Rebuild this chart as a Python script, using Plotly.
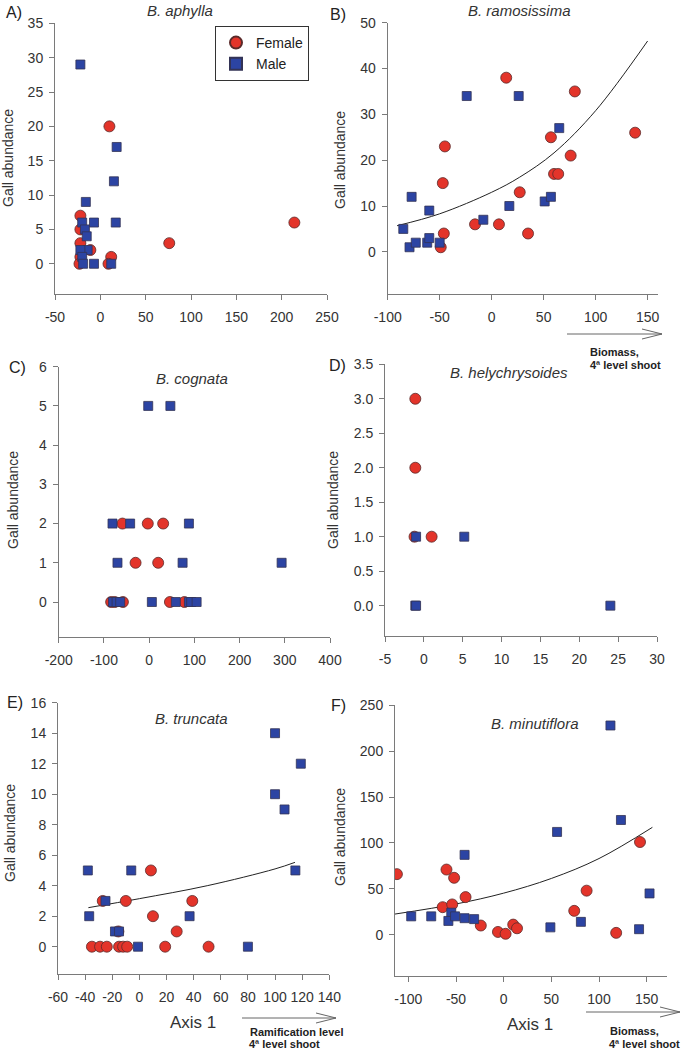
import plotly.graph_objects as go

W, H = 685, 1051
RED = '#E3342A'
BLUE = '#2C44A3'
FONT = 'Liberation Sans, Arial, sans-serif'

# ---- data ----
# A) B. aphylla
a_female_x = [214, 76, 10, 12, 9, -22, -22, -22, -22, -23, -11]
a_female_y = [6, 3, 20, 1, 0, 7, 5, 3, 1, 0, 2]
a_male_x = [-22, 18, 15, 17, -16, -7, -20, -17, -15, -14, -22, -20, -19, -7, 12]
a_male_y = [29, 17, 12, 6, 9, 6, 6, 5, 4, 2, 2, 1, 0, 0, 0]

# B) B. ramosissima
b_female_x = [14, 80, 138, 57, 76, 60, 64, 27, -45, -47, -46, -49, -16, 7, 35]
b_female_y = [38, 35, 26, 25, 21, 17, 17, 13, 23, 15, 4, 1, 6, 6, 4]
b_male_x = [-24, 26, 65, -77, -60, -85, -79, -73, -62, -60, -50, -8, 17, 51, 57]
b_male_y = [34, 34, 27, 12, 9, 5, 1, 2, 2, 3, 2, 7, 10, 11, 12]
b_fit_x = [-91, -50, 0, 27, 60, 100, 150]
b_fit_y = [5.7, 8.3, 13.0, 16.3, 21.6, 30.8, 46.0]

# C) B. cognata
c_female_x = [-59, -3, 31, -30, 20, -84, -76, -58, 46, 78]
c_female_y = [2, 2, 2, 1, 1, 0, 0, 0, 0, 0]
c_male_x = [-2, 47, -81, -42, 88, -70, 74, 293, -80, -72, -64, 6, 59, 88, 93, 105]
c_male_y = [5, 5, 2, 2, 2, 1, 1, 1, 0, 0, 0, 0, 0, 0, 0, 0]

# D) B. helychrysoides
d_female_x = [-1.1, -1.1, -1.2, 1.0]
d_female_y = [3, 2, 1, 1]
d_male_x = [-1.0, 5.2, -1.1, -1.0, 24.0]
d_male_y = [1, 1, 0, 0, 0]

# E) B. truncata
e_female_x = [8.5, -10, -27, 39, 10, 27.5, -15.5, -35, -29, -24, -15, -12, -9, 19, 51]
e_female_y = [5, 3, 3, 3, 2, 1, 1, 0, 0, 0, 0, 0, 0, 0, 0]
e_male_x = [100, 119, 100, 107, 115, -38, -6, -25, -37, 37, -18, -15, -1, 80]
e_male_y = [14, 12, 10, 9, 5, 5, 5, 3, 2, 2, 1, 1, 0, 0]
e_fit_x = [-37.6, 0, 50, 100, 114.7]
e_fit_y = [2.56, 3.15, 4.0, 5.1, 5.53]

# F) B. minutiflora
f_female_x = [-112, -60, -52, -40, -64, -54, -24, -6, 2, 10, 14, 74, 87, 143, 118]
f_female_y = [66, 71, 62, 41, 30, 33, 10, 3, 1, 11, 7, 26, 48, 101, 2]
f_male_x = [112, 123, 56, -41, 153, -97, -76, -55, -58, -51, -41, -31, 49, 81, 142]
f_male_y = [228, 125, 112, 87, 45, 20, 20, 24, 15, 20, 18, 17, 8, 14, 6]
f_fit_x = [-114, -50, 0, 50, 100, 156]
f_fit_y = [22.5, 33.5, 45.3, 61.3, 83.0, 117.0]

# tick labels
a_xticks = [-50, 0, 50, 100, 150, 200, 250]
a_yticks = [0, 5, 10, 15, 20, 25, 30, 35]
b_xticks = [-100, -50, 0, 50, 100, 150]
b_yticks = [0, 10, 20, 30, 40, 50]
c_xticks = [-200, -100, 0, 100, 200, 300, 400]
c_yticks = [0, 1, 2, 3, 4, 5, 6]
d_xticks = [-5, 0, 5, 10, 15, 20, 25, 30]
d_yticks = [0, 0.5, 1, 1.5, 2, 2.5, 3, 3.5]
d_yticklabels = ['0.0', '0.5', '1.0', '1.5', '2.0', '2.5', '3.0', '3.5']
e_xticks = [-60, -40, -20, 0, 20, 40, 60, 80, 100, 120, 140]
e_yticks = [0, 2, 4, 6, 8, 10, 12, 14, 16]
f_xticks = [-100, -50, 0, 50, 100, 150]
f_yticks = [0, 50, 100, 150, 200, 250]

panels = [
    dict(letter='A)', title='B. aphylla', fx=a_female_x, fy=a_female_y, mx=a_male_x, my=a_male_y,
         fit=None, xt=a_xticks, yt=a_yticks, ylab=None,
         box=(55, 327, 23.3, 294), xr=[-50, 250], yr=[-4.4, 35],
         lpos=(14, 13), tpos=(180, 11), ytpos=(8, 158)),
    dict(letter='B)', title='B. ramosissima', fx=b_female_x, fy=b_female_y, mx=b_male_x, my=b_male_y,
         fit=(b_fit_x, b_fit_y), xt=b_xticks, yt=b_yticks, ylab=None,
         box=(387.7, 658, 22.7, 294), xr=[-100, 160], yr=[-9.2, 50],
         lpos=(338, 15), tpos=(519, 11), ytpos=(340, 160)),
    dict(letter='C)', title='B. cognata', fx=c_female_x, fy=c_female_y, mx=c_male_x, my=c_male_y,
         fit=None, xt=c_xticks, yt=c_yticks, ylab=None,
         box=(58.7, 330, 366.7, 637.3), xr=[-200, 400], yr=[-0.9, 6],
         lpos=(17, 367), tpos=(192, 378), ytpos=(13, 500)),
    dict(letter='D)', title='B. helychrysoides', fx=d_female_x, fy=d_female_y, mx=d_male_x, my=d_male_y,
         fit=None, xt=d_xticks, yt=d_yticks, ylab=d_yticklabels,
         box=(385, 657, 364.3, 636), xr=[-5, 30], yr=[-0.44, 3.5],
         lpos=(337, 365), tpos=(509, 373), ytpos=(333, 500)),
    dict(letter='E)', title='B. truncata', fx=e_female_x, fy=e_female_y, mx=e_male_x, my=e_male_y,
         fit=(e_fit_x, e_fit_y), xt=e_xticks, yt=e_yticks, ylab=None,
         box=(58, 329.3, 702.7, 974.3), xr=[-60, 140], yr=[-1.81, 16],
         lpos=(15, 702), tpos=(191, 718), ytpos=(10, 833)),
    dict(letter='F)', title='B. minutiflora', fx=f_female_x, fy=f_female_y, mx=f_male_x, my=f_male_y,
         fit=(f_fit_x, f_fit_y), xt=f_xticks, yt=f_yticks, ylab=None,
         box=(395, 666.7, 705.3, 976), xr=[-114, 171], yr=[-45, 250],
         lpos=(338, 705), tpos=(535, 723), ytpos=(340, 837)),
]

fig = go.Figure()
annotations = []
shapes = []
layout = {}


def px_x(v):
    return v / W


def px_y(v):
    return 1 - v / H


for i, p in enumerate(panels):
    n = '' if i == 0 else str(i + 1)
    xa, ya = 'x' + n, 'y' + n
    l, r, t, b = p['box']
    axis_common = dict(showline=True, linecolor='#7a7a7a', linewidth=1, ticks='outside',
                       ticklen=5, tickcolor='#7a7a7a', showgrid=False, zeroline=False,
                       automargin=False,
                       tickfont=dict(family=FONT, size=14, color='#333333'))
    layout['xaxis' + n] = dict(domain=[px_x(l), px_x(r)], anchor=ya, range=p['xr'],
                               tickmode='array', tickvals=p['xt'], ticklabelstandoff=5,
                               ticktext=[str(v) for v in p['xt']], **axis_common)
    layout['yaxis' + n] = dict(domain=[px_y(b), px_y(t)], anchor=xa, range=p['yr'],
                               tickmode='array', tickvals=p['yt'], ticklabelstandoff=3,
                               ticktext=p['ylab'] if p['ylab'] else [str(v) for v in p['yt']],
                               **axis_common)

    if p['fit'] is not None:
        fig.add_trace(go.Scatter(x=p['fit'][0], y=p['fit'][1], mode='lines',
                                 line=dict(color='#222222', width=1, shape='spline'),
                                 xaxis=xa, yaxis=ya, showlegend=False, hoverinfo='skip'))
    fig.add_trace(go.Scatter(x=p['fx'], y=p['fy'], mode='markers', name='Female',
                             marker=dict(symbol='circle', size=11, color=RED,
                                         line=dict(color='#5a2a2a', width=0.8)),
                             xaxis=xa, yaxis=ya, showlegend=(i == 0)))
    fig.add_trace(go.Scatter(x=p['mx'], y=p['my'], mode='markers', name='Male',
                             marker=dict(symbol='square', size=9, color=BLUE,
                                         line=dict(color='#333355', width=0.8)),
                             xaxis=xa, yaxis=ya, showlegend=(i == 0)))

    annotations.append(dict(text=p['letter'], x=px_x(p['lpos'][0]), y=px_y(p['lpos'][1]),
                            xref='paper', yref='paper', showarrow=False,
                            xanchor='center', yanchor='middle',
                            font=dict(family=FONT, size=16, color='#222222')))
    annotations.append(dict(text='<i>' + p['title'] + '</i>', x=px_x(p['tpos'][0]),
                            y=px_y(p['tpos'][1]), xref='paper', yref='paper',
                            showarrow=False, xanchor='center', yanchor='middle',
                            font=dict(family=FONT, size=15, color='#333333')))
    annotations.append(dict(text='Gall abundance', x=px_x(p['ytpos'][0]),
                            y=px_y(p['ytpos'][1]), xref='paper', yref='paper',
                            showarrow=False, textangle=-90, xanchor='center', yanchor='middle',
                            font=dict(family=FONT, size=14, color='#333333')))

# x-axis titles
for cx, cy in [(193, 1022), (530, 1024)]:
    annotations.append(dict(text='Axis 1', x=px_x(cx), y=px_y(cy), xref='paper', yref='paper',
                            showarrow=False, xanchor='center', yanchor='middle',
                            font=dict(family=FONT, size=17, color='#333333')))

# gradient arrows with two-line bold labels
arrows = [
    (567, 662, 334, 588, 'Biomass,', 'mid', 352),
    (242, 336, 1018, 248, 'Ramification level', 'bot', 1032),
    (586, 680, 1012, 608, 'Biomass,', 'bot', 1031),
]
for x0, x1, yy, tx, line1, where, ty in arrows:
    shapes.append(dict(type='line', xref='paper', yref='paper',
                       x0=px_x(x0), x1=px_x(x1), y0=px_y(yy), y1=px_y(yy),
                       line=dict(color='#666666', width=1)))
    shapes.append(dict(type='path', xref='paper', yref='paper',
                       path='M {},{} L {},{} L {},{}'.format(
                           px_x(x1 - 20), px_y(yy - 5), px_x(x1), px_y(yy),
                           px_x(x1 - 20), px_y(yy + 5)),
                       line=dict(color='#666666', width=1)))
    annotations.append(dict(text='<b>' + line1 + '</b>', x=px_x(tx), y=px_y(ty),
                            xref='paper', yref='paper', showarrow=False,
                            xanchor='left', yanchor='middle',
                            font=dict(family=FONT, size=11, color='#222222')))
    if where == 'bot':
        annotations.append(dict(text='<b>4ª level shoot</b>', x=px_x(tx), y=0,
                                xref='paper', yref='paper', showarrow=False,
                                xanchor='left', yanchor='bottom', borderpad=0,
                                font=dict(family=FONT, size=11, color='#222222')))
    else:
        annotations.append(dict(text='<b>4ª level shoot</b>', x=px_x(tx), y=px_y(ty + 13),
                                xref='paper', yref='paper', showarrow=False,
                                xanchor='left', yanchor='middle',
                                font=dict(family=FONT, size=11, color='#222222')))

fig.update_layout(
    width=W, height=H,
    margin=dict(l=0, r=0, t=0, b=0, autoexpand=False),
    paper_bgcolor='white', plot_bgcolor='white',
    annotations=annotations, shapes=shapes,
    legend=dict(x=px_x(215), y=px_y(26), xanchor='left', yanchor='top',
                bordercolor='#333333', borderwidth=1, bgcolor='white',
                font=dict(family=FONT, size=14, color='#222222'),
                itemsizing='constant', entrywidth=75),
    **layout
)

fig.write_html("out.html", config={'displayModeBar': False},
               post_script="document.body.style.margin='0';document.body.style.overflow='hidden';")
